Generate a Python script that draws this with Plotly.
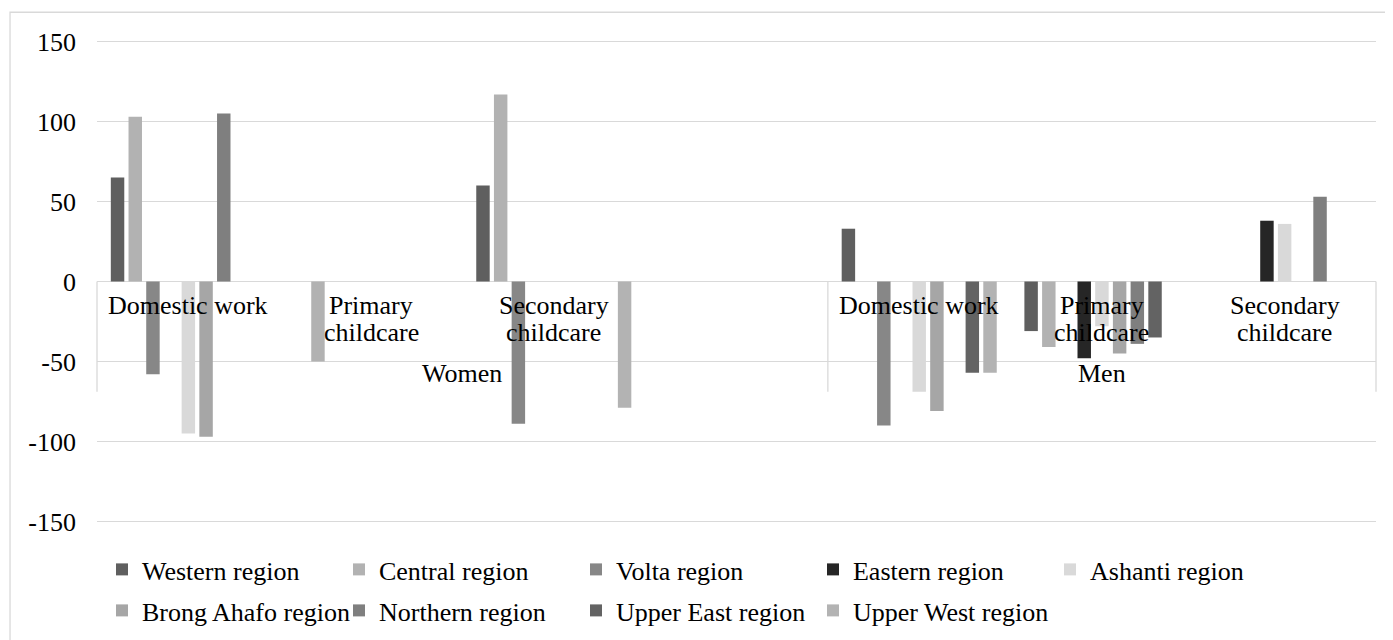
import plotly.graph_objects as go

# ---- data -------------------------------------------------------------
groups = ["Women", "Women", "Women", "Women", "Men", "Men", "Men"]
subcats = ["Domestic work", "Primary childcare", "Secondary childcare", " ",
           "Domestic work", "Primary childcare", "Secondary childcare"]
# wrapped label lines as drawn in the chart
sub_label_lines = [["Domestic work"], ["Primary", "childcare"], ["Secondary", "childcare"], [],
                   ["Domestic work"], ["Primary", "childcare"], ["Secondary", "childcare"]]
group_labels = ["Women", "Men"]

series_names = ["Western region", "Central region", "Volta region", "Eastern region",
                "Ashanti region", "Brong Ahafo region", "Northern region",
                "Upper East region", "Upper West region"]

western    = [65,   None, 60,   None, 33,   -31, None]
central    = [103,  -50,  117,  None, None, -41, None]
volta      = [-58,  None, -89,  None, -90,  None, None]
eastern    = [None, None, None, None, None, -48, 38]
ashanti    = [-95,  None, None, None, -69,  -28, 36]
brong      = [-97,  None, None, None, -81,  -45, None]
northern   = [105,  None, None, None, None, -39, 53]
upper_east = [None, None, None, None, -57,  -35, None]
upper_west = [None, None, -79,  None, -57,  None, None]
series_values = [western, central, volta, eastern, ashanti, brong, northern, upper_east, upper_west]

y_ticks = [150, 100, 50, 0, -50, -100, -150]
y_ticktext = ["150", "100", "50", "0", "-50", "-100", "-150"]

# ---- style ------------------------------------------------------------
colors = ["#5f5f5f", "#b2b2b2", "#878787", "#262626", "#d9d9d9",
          "#a6a6a6", "#7f7f7f", "#636363", "#b3b3b3"]
FONT = "Liberation Serif"
FS = 26
GRID = "#d9d9d9"

fig = go.Figure()
for k, (name, vals, col) in enumerate(zip(series_names, series_values, colors)):
    fig.add_trace(go.Bar(x=[groups, subcats], y=vals, name=name,
                         legend="legend" if k < 5 else "legend2",
                         marker=dict(color=col, line=dict(width=0))))

ncat = len(subcats)

# category labels (first level) placed just under the zero axis
annotations = []
line_y = [-15.2, -32.0]
for i, lines in enumerate(sub_label_lines):
    for k, txt in enumerate(lines):
        annotations.append(dict(x=(i + 0.5) / ncat, xref="paper", y=line_y[k], yref="y",
                                text=txt, showarrow=False, xanchor="center", yanchor="middle",
                                font=dict(family=FONT, size=FS, color="black")))
# group labels (second level)
group_spans = {}
for i, g in enumerate(groups):
    group_spans.setdefault(g, []).append(i)
for g in group_labels:
    idx = group_spans[g]
    xc = (idx[0] + idx[-1] + 1) / 2 / ncat
    annotations.append(dict(x=xc, xref="paper", y=-57.5, yref="y", text=g, showarrow=False,
                            xanchor="center", yanchor="middle",
                            font=dict(family=FONT, size=FS, color="black")))

shapes = []
# group dividers
bounds = [0, len(group_spans["Women"]), ncat]
for b in bounds:
    shapes.append(dict(type="line", xref="paper", yref="y", x0=b / ncat, x1=b / ncat,
                       y0=0, y1=-69, line=dict(color=GRID, width=1.3)))
# outer chart border
shapes.append(dict(type="rect", xref="paper", yref="paper", x0=-0.068, x1=1.03,
                   y0=-0.4, y1=1.0575, line=dict(color=GRID, width=1.3),
                   fillcolor="rgba(0,0,0,0)", layer="below"))

legend_common = dict(orientation="h", x=0.0039, xanchor="left", yanchor="top",
                     font=dict(family=FONT, size=FS, color="black"),
                     entrywidth=192, entrywidthmode="pixels", traceorder="normal",
                     bgcolor="rgba(0,0,0,0)")

fig.update_layout(
    width=1385, height=632,
    margin=dict(l=89, r=17, t=32, b=117, autoexpand=False),
    paper_bgcolor="white", plot_bgcolor="white",
    barmode="group", bargap=0.128, bargroupgap=0.24,
    font=dict(family=FONT, size=FS, color="black"),
    showlegend=True,
    legend=dict(y=-0.0476, **legend_common),
    legend2=dict(y=-0.1325, **legend_common),
    annotations=annotations,
    shapes=shapes,
)
fig.update_xaxes(type="multicategory", range=[-0.5, ncat - 0.5], showticklabels=False,
                 showgrid=False, showline=False, ticks="", showdividers=False,
                 automargin=False)
fig.update_yaxes(range=[-151, 151], tickvals=y_ticks, ticktext=y_ticktext,
                 showgrid=True, gridcolor=GRID, gridwidth=1.3,
                 zeroline=True, zerolinecolor=GRID, zerolinewidth=1.3,
                 showline=False, ticks="", ticklabelstandoff=20, automargin=False,
                 tickfont=dict(family=FONT, size=FS, color="black"))

fig.write_html("out.html")
